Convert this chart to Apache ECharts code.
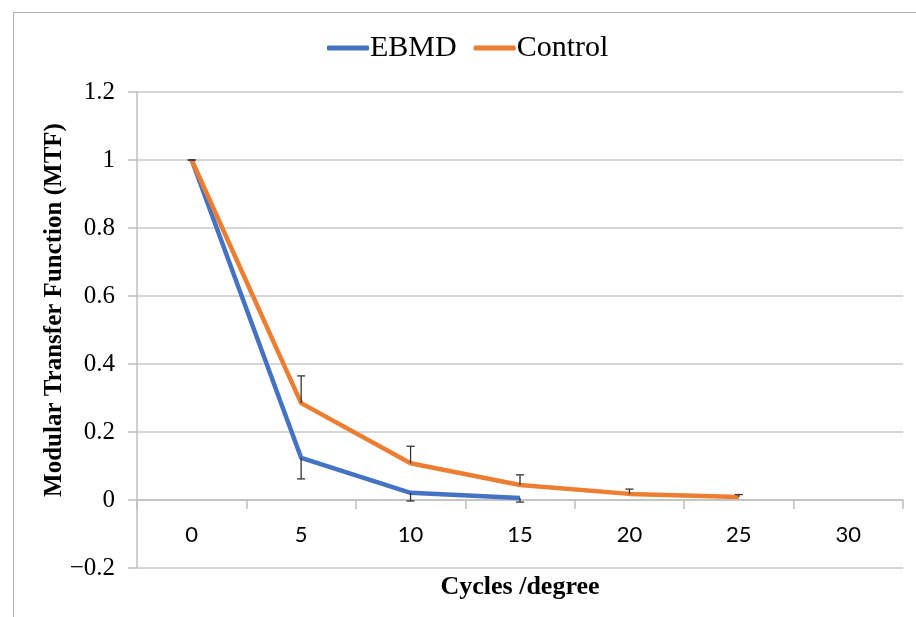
<!DOCTYPE html>
<html>
<head>
<meta charset="utf-8">
<script src="https://cdn.jsdelivr.net/npm/echarts@6/dist/echarts.min.js"></script>
<style>
  html, body { margin: 0; padding: 0; background: #fff; }
  #chart { width: 916px; height: 617px; }
</style>
</head>
<body>
<div id="chart"></div>
<script>
// x categories (cycles/degree)
var cycles = ['0', '5', '10', '15', '20', '25', '30'];
// MTF values
var ebmd = [1, 0.124, 0.021, 0.006];
var control = [1, 0.285, 0.108, 0.044, 0.018, 0.009];
// error bar sizes: EBMD drawn downwards, Control upwards
var ebmdErr = [0, 0.062, 0.024, 0.012];
var controlErr = [0, 0.08, 0.05, 0.03, 0.014, 0.007];
var yTicks = [-0.2, 0, 0.2, 0.4, 0.6, 0.8, 1, 1.2];

var serif = '"Liberation Serif", "Times New Roman", serif';

function errData(vals, errs, dir) {
    var out = [];
    for (var i = 0; i < vals.length; i++) {
        out.push([i, vals[i], vals[i] + dir * errs[i]]);
    }
    return out;
}

function renderErr(params, api) {
    var p1 = api.coord([api.value(0), api.value(1)]);
    var p2 = api.coord([api.value(0), api.value(2)]);
    var w = 4;
    var st = { stroke: '#333', lineWidth: 1.3 };
    return {
        type: 'group',
        children: [
            { type: 'line', shape: { x1: p1[0], y1: p1[1], x2: p2[0], y2: p2[1] }, style: st },
            { type: 'line', shape: { x1: p2[0] - w, y1: p2[1], x2: p2[0] + w, y2: p2[1] }, style: st }
        ]
    };
}

var chart = echarts.init(document.getElementById('chart'));
chart.setOption({
    animation: false,
    color: ['#4472C4', '#ED7D31'],
    graphic: [{
        type: 'polyline',
        shape: { points: [[13.5, 617], [13.5, 12.5], [916, 12.5]] },
        style: { stroke: '#b0b0b0', lineWidth: 1, fill: null }
    }],
    legend: {
        data: ['EBMD', 'Control'],
        top: 28,
        left: 322,
        icon: 'roundRect',
        itemWidth: 42,
        itemHeight: 5,
        itemGap: 17,
        textStyle: { fontFamily: serif, fontSize: 30, color: '#000', padding: [0, 0, 0, -4] }
    },
    grid: { left: 137, right: 13, top: 92, bottom: 49, outerBoundsMode: 'none' },
    xAxis: {
        type: 'category',
        data: cycles,
        boundaryGap: true,
        position: 'bottom',
        offset: -68,
        name: 'Cycles /degree',
        nameLocation: 'middle',
        nameGap: 74,
        nameTextStyle: { fontFamily: serif, fontSize: 26, fontWeight: 'bold', color: '#000' },
        axisLine: { onZero: false, lineStyle: { color: '#bfbfbf', width: 1.5 } },
        axisTick: { show: true, length: 9, lineStyle: { color: '#bfbfbf', width: 1.5 } },
        axisLabel: { margin: 24, fontFamily: 'Lato, "Open Sans", sans-serif', fontSize: 22, color: '#000' },
        splitLine: { show: false }
    },
    yAxis: {
        type: 'value',
        min: -0.2,
        max: 1.2,
        interval: 0.2,
        name: 'Modular Transfer Function (MTF)',
        nameLocation: 'middle',
        nameGap: 70,
        nameMoveOverlap: false,
        nameTextStyle: { fontFamily: serif, fontSize: 25, fontWeight: 'bold', color: '#000', padding: [0, 0, 0, 40] },
        axisLine: { show: true, lineStyle: { color: '#bfbfbf', width: 1.5 } },
        axisTick: { show: true, length: 9, lineStyle: { color: '#bfbfbf', width: 1.5 } },
        axisLabel: {
            margin: 22,
            fontFamily: serif,
            fontSize: 25,
            color: '#000',
            formatter: function (v) {
                var r = Math.round(v * 10) / 10;
                if (yTicks.indexOf(r) < 0) return '';
                return r < 0 ? '\u2212' + String(-r) : String(r);
            }
        },
        splitLine: { lineStyle: { color: '#c8c8c8', width: 1.5 } }
    },
    series: [
        {
            name: 'EBMD',
            type: 'line',
            data: ebmd,
            symbol: 'none',
            lineStyle: { width: 4.5 },
            z: 2
        },
        {
            name: 'Control',
            type: 'line',
            data: control,
            symbol: 'none',
            lineStyle: { width: 4.5 },
            z: 3
        },
        {
            name: 'EBMD err',
            type: 'custom',
            renderItem: renderErr,
            data: errData(ebmd, ebmdErr, -1),
            encode: { x: 0, y: [1, 2] },
            z: 4
        },
        {
            name: 'Control err',
            type: 'custom',
            renderItem: renderErr,
            data: errData(control, controlErr, 1),
            encode: { x: 0, y: [1, 2] },
            z: 4
        }
    ]
});
</script>
</body>
</html>
